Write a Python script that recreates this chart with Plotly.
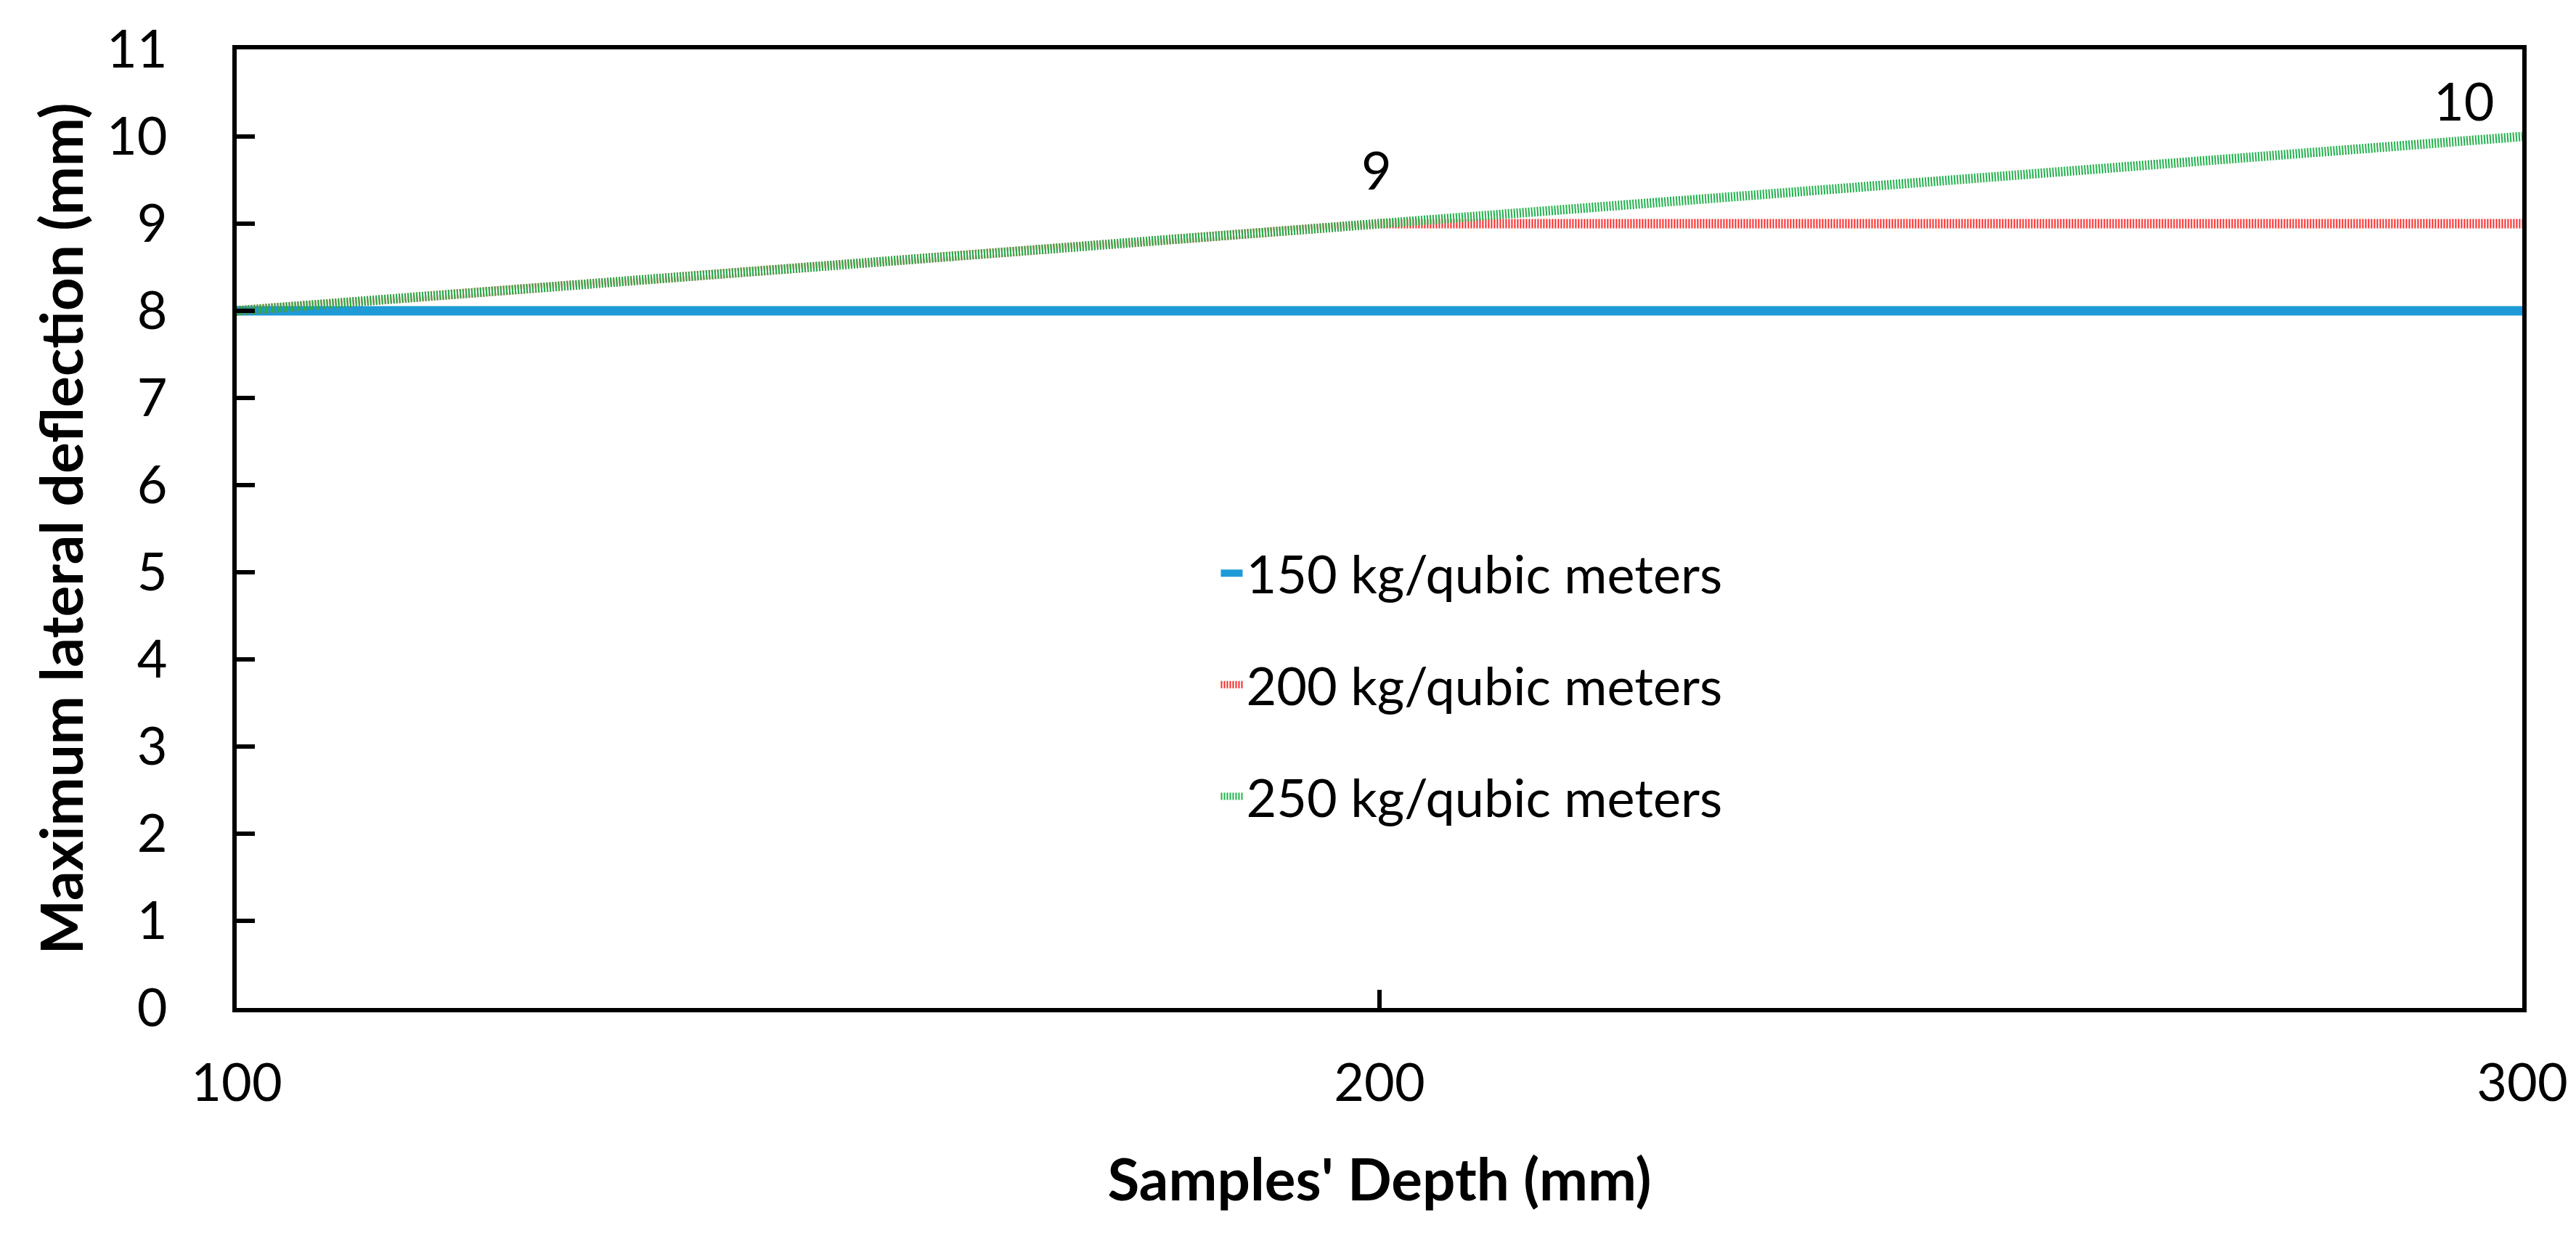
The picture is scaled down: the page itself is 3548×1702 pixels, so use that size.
import plotly.graph_objects as go

depth = [100, 200, 300]
series_names = ["150 kg/qubic meters", "200 kg/qubic meters", "250 kg/qubic meters"]
defl_150 = [8, 8, 8]
defl_200 = [8, 9, 9]
defl_250 = [8, 9, 10]
x_ticks = [100, 200, 300]
y_ticks = list(range(0, 12))

FONT = "Lato"
FS = 72
FS_TITLE = 80

fig = go.Figure()
fig.add_trace(go.Scatter(x=depth, y=defl_150, mode="lines", name=series_names[0],
                         legendgroup="a",
                         line=dict(color="#1E9BD7", width=13)))
fig.add_trace(go.Scatter(x=depth, y=defl_200, mode="lines", name=series_names[1],
                         legendgroup="b",
                         line=dict(color="#FF2A2A", width=13, dash="2px,2px")))
fig.add_trace(go.Scatter(x=depth, y=defl_250, mode="lines", name=series_names[2],
                         legendgroup="c",
                         line=dict(color="#22B14C", width=13, dash="2px,2px")))

# data labels on the 250 series
fig.add_annotation(x=depth[1], y=defl_250[1], text=str(defl_250[1]), showarrow=False,
                   yshift=75, xshift=-4, font=dict(family=FONT, size=FS, color="black"))
fig.add_annotation(x=depth[2], y=defl_250[2], text=str(defl_250[2]), showarrow=False,
                   yshift=50, xshift=-80, font=dict(family=FONT, size=FS, color="black"))

fig.update_layout(
    width=3548, height=1702,
    margin=dict(l=318, r=82, t=60, b=322, autoexpand=False),
    paper_bgcolor="white", plot_bgcolor="white",
    font=dict(family=FONT, size=FS, color="black"),
    showlegend=True,
    legend=dict(x=0.429, y=0.494, xanchor="left", yanchor="top",
                bgcolor="rgba(0,0,0,0)", borderwidth=0,
                traceorder="grouped", tracegroupgap=57,
                font=dict(family=FONT, size=FS, color="black")),
)

fig.update_xaxes(range=[100, 300], tickvals=x_ticks, ticks="inside", ticklen=25,
                 tickwidth=6, tickcolor="black", showline=True, linewidth=6,
                 linecolor="black", mirror=True, showgrid=False, zeroline=False,
                 ticklabelstandoff=36, automargin=False,
                 tickfont=dict(family=FONT, size=FS, color="black"),
                 title=dict(text="Samples' Depth (mm)", standoff=69,
                            font=dict(family=FONT, size=FS_TITLE, color="black", weight="bold")))
fig.update_yaxes(range=[0, 11], tickvals=y_ticks, ticks="inside", ticklen=25,
                 tickwidth=6, tickcolor="black", showline=True, linewidth=6,
                 linecolor="black", mirror=True, showgrid=False, zeroline=False,
                 ticklabelstandoff=75, automargin=False,
                 tickfont=dict(family=FONT, size=FS, color="black"),
                 title=dict(text="Maximum lateral deflection (mm)", standoff=8,
                            font=dict(family=FONT, size=FS_TITLE, color="black", weight="bold")))

fig.write_html("out.html")
